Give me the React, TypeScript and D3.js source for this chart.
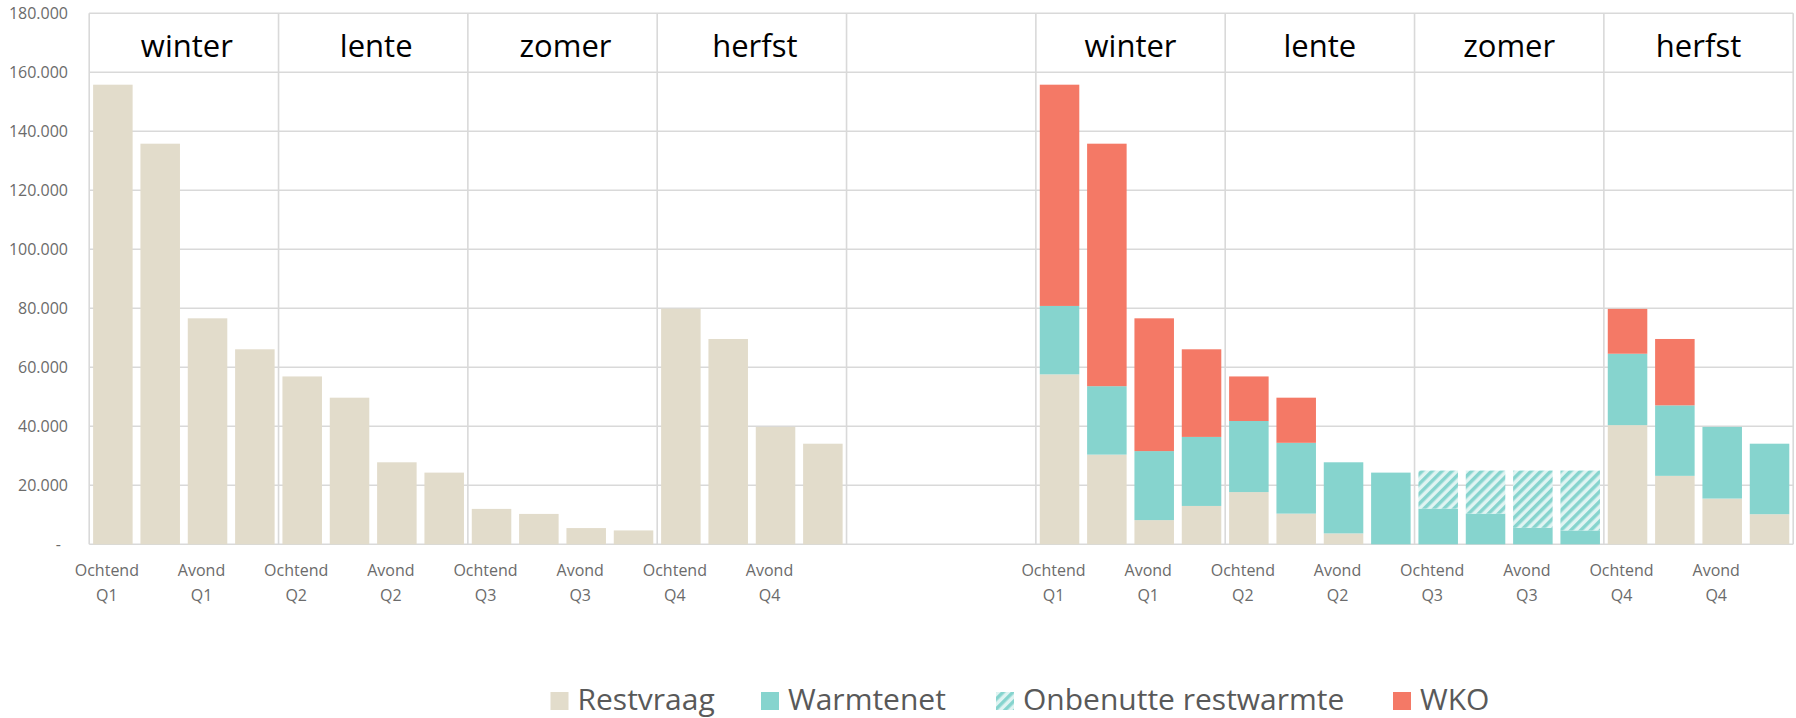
import React from "react";
import * as d3 from "d3";

// ---------- data ----------
const seasonLabels = ["winter", "lente", "zomer", "herfst", "", "winter", "lente", "zomer", "herfst"];

const periodLabels = [
  "Ochtend", "", "Avond", "", "Ochtend", "", "Avond", "",
  "Ochtend", "", "Avond", "", "Ochtend", "", "Avond", "",
];
const quarterLabels = [
  "Q1", "", "Q1", "", "Q2", "", "Q2", "",
  "Q3", "", "Q3", "", "Q4", "", "Q4", "",
];

// left block: total heat demand (restvraag without measures)
const leftRestvraag = [
  155800, 135800, 76600, 66100, 56900, 49700, 27800, 24300,
  12000, 10300, 5500, 4700, 79900, 69600, 39800, 34100,
];

// right block: stacked supply
const rightRestvraag = [
  57600, 30400, 8200, 13000, 17700, 10400, 3700, 0,
  0, 0, 0, 0, 40400, 23200, 15500, 10200,
];
const rightWarmtenet = [
  23200, 23200, 23400, 23400, 24100, 24000, 24100, 24300,
  12100, 10400, 5600, 4700, 24200, 23900, 24300, 23900,
];
const rightOnbenut = [
  0, 0, 0, 0, 0, 0, 0, 0,
  12900, 14600, 19400, 20300, 0, 0, 0, 0,
];
const rightWKO = [
  75000, 82200, 45000, 29700, 15100, 15300, 0, 0,
  0, 0, 0, 0, 15200, 22500, 0, 0,
];

const yTicks = [0, 20000, 40000, 60000, 80000, 100000, 120000, 140000, 160000, 180000];

const seriesNames = ["Restvraag", "Warmtenet", "Onbenutte restwarmte", "WKO"];

// ---------- styling ----------
const W = 1796;
const H = 718;
const PLOT_L = 89.2;
const PLOT_R = 1793.2;
const Y0 = 544.3;
const YTOP = 13.3;
const C_REST = "#E2DCCB";
const C_WARM = "#86D4CE";
const C_WKO = "#F47966";
const C_HATCH_BG = "#E0F4F2";
const C_GRID = "#D9D9D9";
const FONT = "'Open Sans', 'DejaVu Sans', sans-serif";

const locale = d3.formatLocale({ decimal: ",", thousands: ".", grouping: [3], currency: ["€", ""] });
const fmt = locale.format(",.0f");

export default function App() {
  const nSlots = 36;
  const slotIdx = d3.range(nSlots).map(String);
  const x = d3
    .scaleBand<string>()
    .domain(slotIdx)
    .range([PLOT_L, PLOT_R])
    .paddingInner(0.165)
    .paddingOuter(0.0825);
  const sec = d3
    .scaleBand<string>()
    .domain(seasonLabels.map((_, i) => String(i)))
    .range([PLOT_L, PLOT_R]);
  const y = d3.scaleLinear().domain([0, 180000]).range([Y0, YTOP]);

  const leftSlot = (i: number) => String(i);
  const rightSlot = (i: number) => String(i + 20);

  // stacked data for the right block
  const rows = rightRestvraag.map((_, i) => ({
    Restvraag: rightRestvraag[i],
    Warmtenet: rightWarmtenet[i],
    "Onbenutte restwarmte": rightOnbenut[i],
    WKO: rightWKO[i],
    idx: i,
  }));
  const stack = d3.stack<any>().keys(seriesNames)(rows);
  const fills: Record<string, string> = {
    Restvraag: C_REST,
    Warmtenet: C_WARM,
    "Onbenutte restwarmte": "url(#hatch)",
    WKO: C_WKO,
  };

  const bw = x.bandwidth();
  const boundaries = [...seasonLabels.map((_, i) => sec(String(i)) as number), PLOT_R];

  const legendX = [550.5, 761, 996, 1393];

  return (
    <svg
      width={W}
      height={H}
      style={{ position: "absolute", left: 0, top: 0, background: "#fff" }}
      fontFamily={FONT}
    >
      <defs>
        <pattern id="hatch" patternUnits="userSpaceOnUse" width={7} height={7} patternTransform="rotate(45)">
          <rect width={7} height={7} fill={C_HATCH_BG} />
          <rect width={3.5} height={7} fill={C_WARM} />
        </pattern>
      </defs>

      {/* horizontal gridlines */}
      {yTicks.map((t) => (
        <line key={"g" + t} x1={PLOT_L} x2={PLOT_R} y1={y(t)} y2={y(t)} stroke={C_GRID} strokeWidth={1.6} />
      ))}
      {/* vertical section separators */}
      {boundaries.map((b, i) => (
        <line key={"v" + i} x1={b} x2={b} y1={y(180000)} y2={y(0)} stroke={C_GRID} strokeWidth={1.6} />
      ))}

      {/* y-axis labels */}
      {yTicks.map((t) => (
        <text
          key={"yl" + t}
          x={t === 0 ? 61 : 68}
          y={y(t)}
          dy="0.35em"
          textAnchor="end"
          fontSize={16}
          fill="#6b6b6b"
        >
          {t === 0 ? "-" : fmt(t)}
        </text>
      ))}

      {/* season labels */}
      {seasonLabels.map((s, i) =>
        s ? (
          <text
            key={"s" + i}
            x={(sec(String(i)) as number) + sec.bandwidth() / 2 + (i < 4 ? 3 : 0)}
            y={56.5}
            textAnchor="middle"
            fontSize={31}
            fill="#000"
          >
            {s}
          </text>
        ) : null
      )}

      {/* left block bars */}
      {leftRestvraag.map((v, i) => (
        <rect
          key={"lb" + i}
          x={x(leftSlot(i))}
          y={y(v)}
          width={bw}
          height={y(0) - y(v)}
          fill={C_REST}
        />
      ))}

      {/* right block stacked bars */}
      {stack.map((layer) =>
        layer.map((d: any, i: number) =>
          d[1] - d[0] > 0 ? (
            <rect
              key={layer.key + i}
              x={x(rightSlot(i))}
              y={y(d[1])}
              width={bw}
              height={y(d[0]) - y(d[1])}
              fill={fills[layer.key]}
            />
          ) : null
        )
      )}

      {/* x-axis labels */}
      {[0, 1].map((half) =>
        periodLabels.map((p, i) => {
          if (!p) return null;
          const key = half === 0 ? leftSlot(i) : rightSlot(i);
          const cx = (x(key) as number) + bw / 2 - 6;
          return (
            <g key={"xl" + half + "_" + i} fontSize={16} fill="#6b6b6b" textAnchor="middle">
              <text x={cx} y={575.5}>{p}</text>
              <text x={cx} y={601}>{quarterLabels[i]}</text>
            </g>
          );
        })
      )}

      {/* legend */}
      {seriesNames.map((name, i) => (
        <g key={"lg" + i}>
          <rect x={legendX[i]} y={692} width={18} height={18} fill={fills[name]} />
          <text x={legendX[i] + 27} y={710} fontSize={30} fill="#595959">
            {name}
          </text>
        </g>
      ))}
    </svg>
  );
}
